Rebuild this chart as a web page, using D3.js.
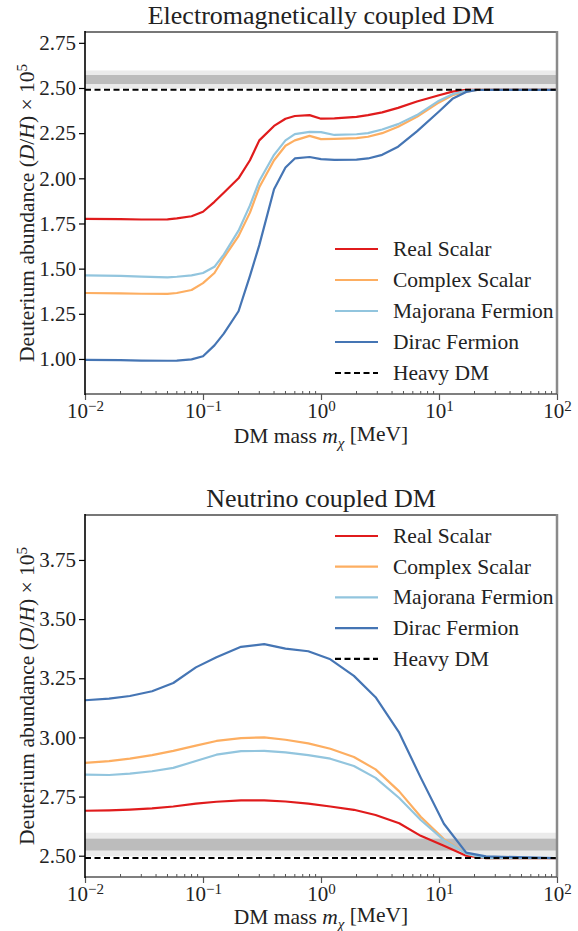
<!DOCTYPE html>
<html lang="en">
<head>
<meta charset="utf-8">
<title>Deuterium abundance vs DM mass</title>
<script src="https://d3js.org/d3.v7.min.js"></script>
<style>
  body { margin: 0; background: #fff; }
  svg { display: block; font-family: "Liberation Serif", "DejaVu Serif", serif; }
  .label { font-size: 21.5px; fill: #222; }
  .title { font-size: 26px; fill: #222; }
  .legend text { font-size: 21.5px; fill: #222; }
</style>
</head>
<body>
<svg id="chart" width="578" height="931"></svg>
<script>
// data
const seriesNames = ["Real Scalar", "Complex Scalar", "Majorana Fermion", "Dirac Fermion"];
const seriesColors = ["#e01b1c", "#fdae61", "#92c5de", "#4575b4"];

const emMass = [0.01, 0.02, 0.03, 0.05, 0.06, 0.08, 0.1, 0.125, 0.15, 0.2, 0.25, 0.3, 0.4, 0.5, 0.6, 0.8, 1.0, 1.3, 2, 2.5, 3.3, 4.5, 6.5, 10, 13, 17, 21, 30, 100];
const emReal = [1.775, 1.774, 1.772, 1.773, 1.778, 1.79, 1.815, 1.87, 1.92, 2.00, 2.10, 2.21, 2.29, 2.33, 2.345, 2.35, 2.33, 2.332, 2.34, 2.35, 2.365, 2.39, 2.425, 2.46, 2.48, 2.49, 2.49, 2.49, 2.49];
const emComplex = [1.365, 1.363, 1.361, 1.36, 1.365, 1.382, 1.42, 1.476, 1.56, 1.68, 1.81, 1.95, 2.10, 2.18, 2.21, 2.235, 2.217, 2.218, 2.222, 2.23, 2.25, 2.285, 2.34, 2.42, 2.46, 2.48, 2.49, 2.49, 2.49];
const emMajorana = [1.463, 1.46, 1.456, 1.452, 1.455, 1.463, 1.476, 1.51, 1.578, 1.71, 1.85, 1.985, 2.13, 2.21, 2.245, 2.257, 2.256, 2.24, 2.244, 2.25, 2.27, 2.30, 2.35, 2.43, 2.466, 2.485, 2.49, 2.49, 2.49];
const emDirac = [0.995, 0.993, 0.991, 0.99, 0.991, 0.998, 1.015, 1.075, 1.14, 1.264, 1.46, 1.63, 1.94, 2.06, 2.11, 2.118, 2.106, 2.102, 2.104, 2.11, 2.13, 2.175, 2.26, 2.37, 2.44, 2.478, 2.489, 2.49, 2.49];

const nuMass = [0.01, 0.016, 0.024, 0.037, 0.056, 0.087, 0.13, 0.21, 0.33, 0.5, 0.78, 1.2, 1.9, 2.9, 4.6, 7, 11, 17, 25, 100];
const nuReal = [2.69, 2.692, 2.695, 2.70, 2.708, 2.72, 2.728, 2.734, 2.734, 2.729, 2.72, 2.708, 2.694, 2.672, 2.637, 2.584, 2.542, 2.50, 2.49, 2.49];
const nuComplex = [2.892, 2.90, 2.91, 2.925, 2.943, 2.965, 2.985, 2.997, 3.00, 2.99, 2.975, 2.952, 2.917, 2.865, 2.772, 2.665, 2.57, 2.509, 2.49, 2.49];
const nuMajorana = [2.843, 2.841, 2.847, 2.857, 2.871, 2.90, 2.927, 2.942, 2.943, 2.937, 2.925, 2.91, 2.879, 2.829, 2.744, 2.651, 2.566, 2.509, 2.49, 2.49];
const nuDirac = [3.157, 3.164, 3.175, 3.195, 3.23, 3.296, 3.339, 3.383, 3.394, 3.375, 3.364, 3.33, 3.26, 3.17, 3.02, 2.83, 2.635, 2.513, 2.497, 2.49];

const heavyDM = 2.49;
const bandOuter = [2.497, 2.597];
const bandInner = [2.522, 2.572];

const xTicks = [1e-2, 1e-1, 1, 10, 100];
const xExponents = ["\u22122", "\u22121", "0", "1", "2"];
const emYTicks = [1.00, 1.25, 1.50, 1.75, 2.00, 2.25, 2.50, 2.75];
const nuYTicks = [2.50, 2.75, 3.00, 3.25, 3.50, 3.75];

const serif = '"Liberation Serif", "DejaVu Serif", serif';
const svg = d3.select("#chart");
const left = 85, right = 557;

function drawPanel(p) {
  const x = d3.scaleLog().domain([1e-2, 1e2]).range([left, right]);
  const y = d3.scaleLinear().domain(p.yDomain).range([p.bottom, p.top]);
  const g = svg.append("g");

  // observational bands
  g.append("rect")
    .attr("x", left).attr("width", right - left)
    .attr("y", y(bandOuter[1])).attr("height", y(bandOuter[0]) - y(bandOuter[1]))
    .attr("fill", "#ebebeb");
  g.append("rect")
    .attr("x", left).attr("width", right - left)
    .attr("y", y(bandInner[1])).attr("height", y(bandInner[0]) - y(bandInner[1]))
    .attr("fill", "#bcbcbc");

  const line = d3.line().x(d => x(d[0])).y(d => y(d[1]));
  p.series.forEach((vals, i) => {
    g.append("path")
      .datum(p.mass.map((m, j) => [m, vals[j]]))
      .attr("d", line)
      .attr("fill", "none")
      .attr("stroke", seriesColors[i])
      .attr("stroke-width", 2.2)
      .attr("stroke-linejoin", "round");
  });

  g.append("line")
    .attr("x1", left).attr("x2", right)
    .attr("y1", y(heavyDM)).attr("y2", y(heavyDM))
    .attr("stroke", "#000").attr("stroke-width", 2)
    .attr("stroke-dasharray", "6,3.5");

  // axes
  const yAxis = g.append("g")
    .attr("transform", `translate(${left},0)`)
    .call(d3.axisLeft(y).tickValues(p.yTicks).tickFormat(d3.format(".2f")).tickSize(6).tickPadding(3))
    .attr("font-family", serif).attr("font-size", 21);
  yAxis.select(".domain").remove();
  yAxis.selectAll(".tick line").attr("stroke", "#000").attr("stroke-width", 1.2);
  yAxis.selectAll(".tick text").attr("fill", "#222");

  const xAxis = g.append("g")
    .attr("transform", `translate(0,${p.bottom})`)
    .call(d3.axisBottom(x).tickValues(xTicks).tickSize(6).tickPadding(3))
    .attr("font-family", serif).attr("font-size", 21);
  xAxis.select(".domain").remove();
  xAxis.selectAll(".tick line").attr("stroke", "#555").attr("stroke-width", 1.2);
  xAxis.selectAll(".tick text").attr("fill", "#222").each(function(d, i) {
    const t = d3.select(this).text(null);
    t.append("tspan").text("10");
    t.append("tspan").attr("dy", "-0.45em").attr("font-size", "15px").text(xExponents[i]);
  });

  // minor ticks, drawn inward
  const minor = [];
  for (let e = -2; e < 2; e++) for (let k = 2; k <= 9; k++) minor.push(k * Math.pow(10, e));
  g.selectAll(null).data(minor).enter().append("line")
    .attr("x1", d => x(d)).attr("x2", d => x(d))
    .attr("y1", p.bottom).attr("y2", p.bottom - 3)
    .attr("stroke", "#555").attr("stroke-width", 1);

  // frame
  g.append("line").attr("x1", left).attr("x2", right).attr("y1", p.top).attr("y2", p.top)
    .attr("stroke", "#777").attr("stroke-width", 2);
  g.append("line").attr("x1", right).attr("x2", right).attr("y1", p.top - 1).attr("y2", p.bottom)
    .attr("stroke", "#8a8a8a").attr("stroke-width", 2.5);
  g.append("line").attr("x1", left).attr("x2", right).attr("y1", p.bottom).attr("y2", p.bottom)
    .attr("stroke", "#555").attr("stroke-width", 1.6);
  g.append("line").attr("x1", left).attr("x2", left).attr("y1", p.top - 1).attr("y2", p.bottom + 1)
    .attr("stroke", "#000").attr("stroke-width", 1.6);

  // title and labels
  g.append("text").attr("class", "title")
    .attr("x", (left + right) / 2).attr("y", p.top - 8)
    .attr("text-anchor", "middle").text(p.title);

  const xl = g.append("text").attr("class", "label")
    .attr("x", (left + right) / 2).attr("y", p.bottom + p.xLabelGap)
    .attr("text-anchor", "middle");
  xl.append("tspan").text("DM mass ");
  xl.append("tspan").attr("font-style", "italic").text("m");
  xl.append("tspan").attr("font-style", "italic").attr("font-size", "15px").attr("dy", "0.3em").text("\u03c7");
  xl.append("tspan").attr("dy", "-0.3em").text(" [MeV]");

  const yl = g.append("text").attr("class", "label")
    .attr("transform", `translate(34,${(p.top + p.bottom) / 2}) rotate(-90)`)
    .attr("text-anchor", "middle");
  yl.append("tspan").text("Deuterium abundance (");
  yl.append("tspan").attr("font-style", "italic").text("D");
  yl.append("tspan").text("/");
  yl.append("tspan").attr("font-style", "italic").text("H");
  yl.append("tspan").text(") \u00d7 10");
  yl.append("tspan").attr("dy", "-0.45em").attr("font-size", "15px").text("5");

  // legend
  const leg = g.append("g").attr("class", "legend");
  const rows = seriesNames.map((n, i) => ({ name: n, color: seriesColors[i], dash: null }))
    .concat([{ name: "Heavy DM", color: "#000", dash: "6,3.5" }]);
  rows.forEach((r, i) => {
    const yy = p.legendTop + i * p.legendStep;
    leg.append("line")
      .attr("x1", 335).attr("x2", 378).attr("y1", yy).attr("y2", yy)
      .attr("stroke", r.color).attr("stroke-width", 2.2)
      .attr("stroke-dasharray", r.dash);
    leg.append("text").attr("x", 393).attr("y", yy).attr("dy", "0.33em").text(r.name);
  });
}

drawPanel({
  title: "Electromagnetically coupled DM",
  top: 32, bottom: 394, yDomain: [0.806, 2.81], yTicks: emYTicks,
  mass: emMass, series: [emReal, emComplex, emMajorana, emDirac],
  legendTop: 249, legendStep: 31, xLabelGap: 49
});

drawPanel({
  title: "Neutrino coupled DM",
  top: 515, bottom: 877, yDomain: [2.41, 3.94], yTicks: nuYTicks,
  mass: nuMass, series: [nuReal, nuComplex, nuMajorana, nuDirac],
  legendTop: 536, legendStep: 30.7, xLabelGap: 47
});
</script>
</body>
</html>
